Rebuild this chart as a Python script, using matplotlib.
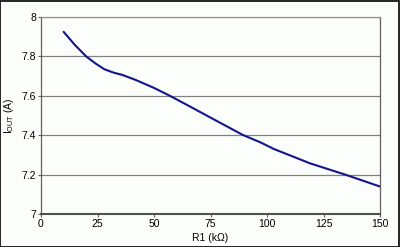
import matplotlib
matplotlib.use("Agg")
import matplotlib.pyplot as plt

# R1 (kOhm) vs IOUT (A)
r1 = [10, 15, 20, 24, 28, 32, 36, 42, 50, 57, 66, 76, 89.5, 97, 103, 119, 134.5, 150]
iout = [7.925, 7.858, 7.80, 7.765, 7.735, 7.718, 7.706, 7.68, 7.64, 7.60, 7.545,
        7.483, 7.40, 7.364, 7.33, 7.257, 7.20, 7.139]

x_ticks = [0, 25, 50, 75, 100, 125, 150]
y_ticks = [7, 7.2, 7.4, 7.6, 7.8, 8]
y_labels = ["7", "7.2", "7.4", "7.6", "7.8", "8"]

plt.rcParams['font.family'] = ['Liberation Sans', 'DejaVu Sans']

fig = plt.figure(figsize=(4.0, 2.47), dpi=100, facecolor="#fcfefc")
ax = fig.add_axes([0.1025, 0.134, 0.8475, 0.797])
ax.set_facecolor("#fcfefc")

# black frame around the whole picture
fig.patches.append(plt.Rectangle((0.001, 0.002), 0.997, 0.995, transform=fig.transFigure,
                                 fill=False, edgecolor="black", linewidth=1.2))

for y in y_ticks[1:]:
    ax.axhline(y, color="#808080", linewidth=0.9, zorder=1)

ax.plot(r1, iout, color="#14148c", linewidth=1.5, zorder=3,
        solid_joinstyle="round", solid_capstyle="round")

ax.set_xlim(0, 150)
ax.set_ylim(7, 8)
ax.set_xticks(x_ticks)
ax.set_yticks(y_ticks)
ax.set_yticklabels(y_labels)
ax.tick_params(axis="both", length=2, width=0.8, color="#606060", labelsize=7.5, pad=1.5)

ax.spines["left"].set_color("#606060")
ax.spines["bottom"].set_color("#505050")
ax.spines["bottom"].set_linewidth(1.5)
ax.spines["right"].set_color("#606060")
ax.spines["top"].set_color("#909090")
for s in ["left", "right", "top"]:
    ax.spines[s].set_linewidth(0.9)

ax.set_xlabel("R1 (k\u03a9)", fontsize=7.5, labelpad=3)
ax.set_ylabel("I$_{\\mathregular{OUT}}$ (A)", fontsize=7.5, labelpad=4)

fig.savefig("out.png", dpi=100, facecolor=fig.get_facecolor())
